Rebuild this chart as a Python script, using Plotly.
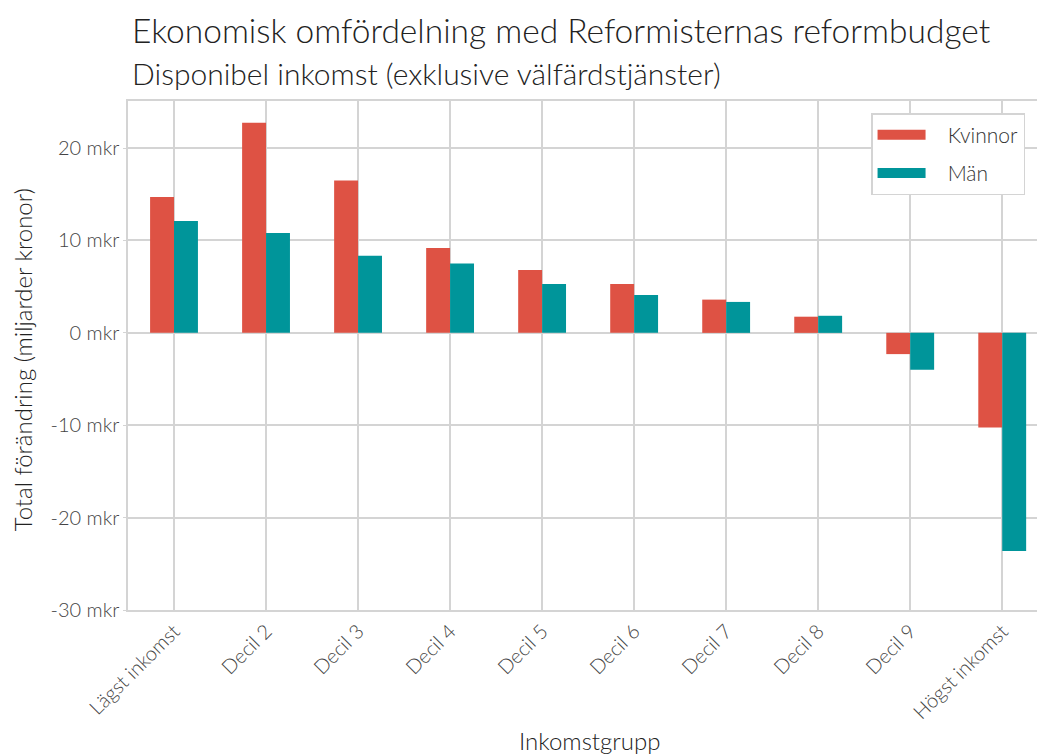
import plotly.graph_objects as go

categories = ["Lägst inkomst", "Decil 2", "Decil 3", "Decil 4", "Decil 5",
              "Decil 6", "Decil 7", "Decil 8", "Decil 9", "Högst inkomst"]
kvinnor = [14.7, 22.75, 16.5, 9.2, 6.8, 5.3, 3.6, 1.75, -2.3, -10.25]
man = [12.1, 10.8, 8.35, 7.5, 5.3, 4.1, 3.35, 1.85, -4.0, -23.6]
y_ticks = [-30, -20, -10, 0, 10, 20]
y_tick_labels = [f"{v} mkr" for v in y_ticks]

FONT = "Lato"
GRID = "#d4d4d4"
TXT = "#333333"
RED = "#DE5244"
TEAL = "#00959A"

# figure pixel geometry (page has an 8px body offset)
L, T, W, H = 120, 93, 1045, 755
B = 153
PW = W - L
PH = H - T - B


def px(xp):
    return (xp - L) / PW


def py(yp):
    return (T + PH - yp) / PH


fig = go.Figure()
fig.add_trace(go.Bar(x=categories, y=kvinnor, name="Kvinnor", marker_color=RED,
                     marker_line_width=0, showlegend=False, legendgroup="k"))
fig.add_trace(go.Bar(x=categories, y=man, name="Män", marker_color=TEAL,
                     marker_line_width=0, showlegend=False, legendgroup="m"))
# legend entries with wide swatches
fig.add_trace(go.Scatter(x=[None], y=[None], mode="lines", name="\u00a0\u00a0\u00a0Kvinnor",
                         line=dict(color=RED, width=17), legendgroup="k"))
fig.add_trace(go.Scatter(x=[None], y=[None], mode="lines", name="\u00a0\u00a0\u00a0Män",
                         line=dict(color=TEAL, width=17), legendgroup="m"))

tick_font = dict(size=20, family=FONT, color="#444444", weight=300)
lab_font = dict(size=24, family=FONT, color="#222222", weight=300)

fig.update_layout(
    width=W, height=H,
    margin=dict(l=L, r=0, t=T, b=B),
    paper_bgcolor="white", plot_bgcolor="white",
    barmode="group", bargap=0.48, bargroupgap=0,
    font=dict(family=FONT, color=TXT),
    legend=dict(
        x=px(1019), xanchor="right", y=py(105), yanchor="top",
        bgcolor="white", bordercolor=GRID, borderwidth=1.5,
        font=dict(size=21, family=FONT, color="#333333", weight=300),
        itemwidth=48, tracegroupgap=8,
    ),
    xaxis=dict(
        range=[-0.5, 9.53], showgrid=True, gridcolor=GRID, gridwidth=1.5,
        showline=True, linecolor=GRID, linewidth=1.5, mirror=True,
        tickangle=-45, tickfont=tick_font, ticks="",
    ),
    yaxis=dict(
        range=[-30, 25.1], tickvals=y_ticks, ticktext=y_tick_labels,
        showgrid=True, gridcolor=GRID, gridwidth=1.5,
        zeroline=True, zerolinecolor=GRID, zerolinewidth=1.5,
        showline=True, linecolor=GRID, linewidth=1.5, mirror=True,
        ticks="outside", ticklen=3, tickcolor=GRID,
        tickfont=tick_font,
    ),
    annotations=[
        dict(text="Ekonomisk omfördelning med Reformisternas reformbudget",
             xref="paper", yref="paper", x=px(122), y=py(22), xanchor="left", yanchor="middle",
             showarrow=False, font=dict(size=33.5, family=FONT, color="#222222", weight=300)),
        dict(text="Disponibel inkomst (exklusive välfärdstjänster)",
             xref="paper", yref="paper", x=px(122), y=py(65), xanchor="left", yanchor="middle",
             showarrow=False, font=dict(size=30, family=FONT, color="#222222", weight=300)),
        dict(text="Total förändring (miljarder kronor)", textangle=-90,
             xref="paper", yref="paper", x=px(14), y=py(352), xanchor="center", yanchor="middle",
             showarrow=False, font=lab_font),
        dict(text="Inkomstgrupp",
             xref="paper", yref="paper", x=px(582), y=py(732), xanchor="center", yanchor="middle",
             showarrow=False, font=lab_font),
    ],
)

fig.write_html("out.html")
